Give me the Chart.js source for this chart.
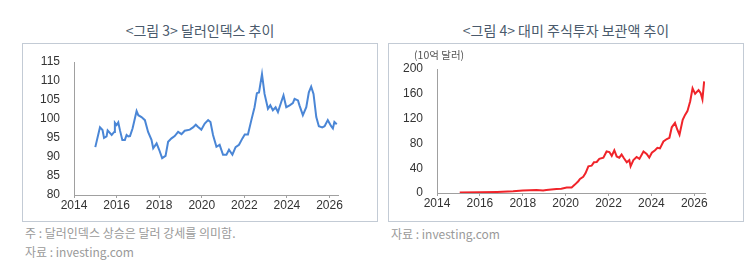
<!DOCTYPE html>
<html>
<head>
<meta charset="utf-8">
<script src="https://cdn.jsdelivr.net/npm/chart.js@4.4.1/dist/chart.umd.min.js"></script>
<style>
  body { margin: 0; background: #fff; width: 751px; height: 268px; position: relative; overflow: hidden;
         font-family: "Noto Sans CJK KR", "Noto Sans", sans-serif; }
  .title { position: absolute; top: 20px; width: 356px; text-align: center; font-size: 14px; color: #4a5a6c; }
  .box { position: absolute; top: 43px; width: 354px; height: 177px; border: 1.5px solid #c3cbd5; }
  .note { position: absolute; font-size: 12px; color: #9a9a9a; }
  .unit { position: absolute; font-size: 10.5px; color: #555; }
  canvas { position: absolute; }
</style>
</head>
<body>
<div class="title" style="left:22px">&lt;그림 3&gt; 달러인덱스 추이</div>
<div class="title" style="left:388px">&lt;그림 4&gt; 대미 주식투자 보관액 추이</div>
<div class="box" style="left:22px"></div>
<div class="box" style="left:388px"></div>
<canvas id="chartDxy" width="356" height="175" style="left:22px;top:45px"></canvas>
<canvas id="chartHold" width="356" height="175" style="left:388px;top:45px"></canvas>
<div class="unit" style="left:414px;top:47px">(10억 달러)</div>
<div class="note" style="left:25px;top:224px">주 : 달러인덱스 상승은 달러 강세를 의미함.</div>
<div class="note" style="left:25px;top:243px">자료 : investing.com</div>
<div class="note" style="left:391px;top:225px">자료 : investing.com</div>
<script>
// 달러인덱스
const dxyYears = [2015.0, 2015.22, 2015.34, 2015.41, 2015.53, 2015.58, 2015.77, 2015.89, 2015.92, 2016.0,
  2016.08, 2016.16, 2016.27, 2016.39, 2016.47, 2016.55, 2016.63, 2016.75, 2016.94, 2017.02,
  2017.17, 2017.33, 2017.48, 2017.64, 2017.72, 2017.88, 2018.0, 2018.14, 2018.3, 2018.42,
  2018.58, 2018.73, 2018.89, 2019.05, 2019.2, 2019.44, 2019.59, 2019.72, 2019.83, 2019.98,
  2020.14, 2020.3, 2020.41, 2020.53, 2020.69, 2020.84, 2021.0, 2021.16, 2021.28, 2021.44,
  2021.59, 2021.75, 2021.91, 2022.02, 2022.17, 2022.33, 2022.48, 2022.59, 2022.69, 2022.83,
  2022.95, 2023.11, 2023.22, 2023.34, 2023.47, 2023.58, 2023.73, 2023.84, 2023.97, 2024.13,
  2024.28, 2024.36, 2024.52, 2024.59, 2024.75, 2024.91, 2025.03, 2025.14, 2025.25, 2025.38,
  2025.5, 2025.66, 2025.77, 2025.92, 2026.08, 2026.16, 2026.23, 2026.34];
const dxyValues = [92.6, 97.8, 97.1, 95.0, 95.4, 97.0, 95.8, 96.6, 99.0, 98.4,
  99.1, 97.0, 94.5, 94.5, 95.8, 95.4, 95.5, 97.5, 102.1, 101.0,
  100.5, 99.7, 96.6, 94.5, 92.3, 93.6, 91.9, 89.7, 90.3, 94.0,
  94.9, 95.5, 96.6, 96.0, 96.9, 97.2, 97.8, 98.5, 97.9, 97.2,
  98.8, 99.7, 99.2, 95.8, 92.7, 93.2, 90.6, 90.6, 91.9, 90.6,
  92.6, 93.2, 94.9, 95.9, 95.9, 99.7, 103.1, 106.8, 107.0, 111.8,
  106.6, 102.7, 103.6, 102.3, 103.1, 101.8, 104.4, 106.2, 103.1, 103.6,
  104.2, 105.3, 104.9, 103.6, 101.0, 103.1, 107.0, 108.5, 106.6, 100.5,
  98.1, 97.8, 98.1, 99.7, 98.1, 97.5, 99.2, 98.6];

// 대미 주식투자 보관액 (10억 달러)
const holdYears = [2015.06, 2016.0, 2016.8, 2017.55, 2018.0, 2018.64, 2018.95, 2019.1, 2019.57, 2019.8,
  2020.05, 2020.28, 2020.43, 2020.59, 2020.67, 2020.82, 2020.93, 2021.06, 2021.21, 2021.32,
  2021.45, 2021.57, 2021.76, 2021.91, 2022.04, 2022.15, 2022.27, 2022.38, 2022.5, 2022.61,
  2022.72, 2022.85, 2022.97, 2023.03, 2023.16, 2023.31, 2023.44, 2023.63, 2023.78, 2023.9,
  2024.02, 2024.17, 2024.28, 2024.4, 2024.56, 2024.72, 2024.84, 2024.95, 2025.1, 2025.21,
  2025.31, 2025.46, 2025.57, 2025.68, 2025.81, 2025.92, 2026.04, 2026.2, 2026.3, 2026.38, 2026.46];
const holdValues = [1, 1.2, 1.8, 2.7, 4, 5, 4, 5, 6.5, 7,
  9, 9, 13.5, 19, 22.6, 26, 32, 43, 44, 49.5,
  50, 55, 57, 67, 66, 60, 69, 59, 57, 62,
  56, 49.5, 53, 43, 53, 58, 55, 67, 63, 57,
  65, 69, 73, 72, 83, 87, 89, 106, 113, 102,
  94, 118, 126, 132, 148, 169, 160, 166, 161, 151, 180];

const xTicks = [2014, 2016, 2018, 2020, 2022, 2024, 2026];
const dxyTicks = [80, 85, 90, 95, 100, 105, 110, 115];
const holdTicks = [0, 40, 80, 120, 160, 200];

const tickFont = { family: "'Liberation Sans Narrow', 'Liberation Sans', Arial", size: 12 };
const tickColor = "#333";
const axisColor = "#a0a0a0";

function makeChart(id, years, values, color, yTicks, opts) {
  const data = years.map((x, i) => ({ x, y: values[i] }));
  return new Chart(document.getElementById(id), {
    type: "line",
    data: { datasets: [{ data, borderColor: color, borderWidth: 2, pointRadius: 0, tension: 0 }] },
    options: {
      responsive: false,
      animation: false,
      layout: { padding: opts.padding },
      plugins: { legend: { display: false }, tooltip: { enabled: false } },
      scales: {
        x: {
          type: "linear", min: 2014, max: opts.xMax,
          afterBuildTicks: (a) => { a.ticks = xTicks.map(v => ({ value: v })); },
          afterFit: (a) => { a.height = opts.xHeight; },
          border: { color: axisColor, width: 1 },
          grid: { drawOnChartArea: false, tickLength: 3, color: axisColor },
          ticks: { font: tickFont, color: tickColor, maxRotation: 0, padding: 0, callback: (v) => String(v) }
        },
        y: {
          min: yTicks[0], max: yTicks[yTicks.length - 1],
          afterBuildTicks: (a) => { a.ticks = yTicks.map(v => ({ value: v })); },
          afterFit: (a) => { a.width = opts.yWidth; },
          border: { color: axisColor, width: 1 },
          grid: { display: false },
          ticks: { font: tickFont, color: tickColor, padding: 6, callback: (v) => String(v) }
        }
      }
    }
  });
}

makeChart("chartDxy", dxyYears, dxyValues, "#4a86d6", dxyTicks,
  { xMax: 2026.4, yWidth: 52, xHeight: 25, padding: { left: 0, right: 40, top: 17, bottom: 0 } });
makeChart("chartHold", holdYears, holdValues, "#f0242a", holdTicks,
  { xMax: 2026.5, yWidth: 49, xHeight: 27, padding: { left: 0, right: 39, top: 24, bottom: 0 } });
</script>
</body>
</html>
